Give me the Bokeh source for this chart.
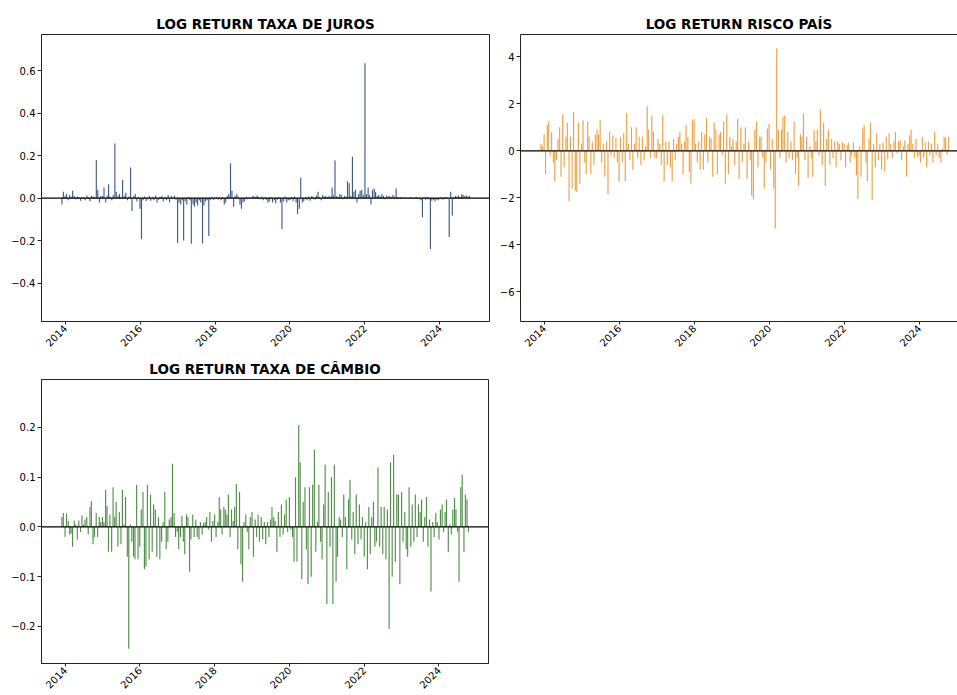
import math
import numpy as np
import pandas as pd
from bokeh.plotting import figure
from bokeh.layouts import column, row
from bokeh.models import (ColumnDataSource, FixedTicker, CustomJSTickFormatter, Span,
                          Range1d, LinearAxis)
from bokeh.embed import file_html
from bokeh.resources import INLINE

# ---------------- data (semi-monthly log returns, Dec 2013 .. Oct 2024) ----------------
titles = ["LOG RETURN TAXA DE JUROS", "LOG RETURN RISCO PAÍS", "LOG RETURN TAXA DE CÂMBIO"]
tick_years = [2014, 2016, 2018, 2020, 2022, 2024]

juros = [
    -0.03, 0.03,
    0.01, 0.02, -0.01, 0.015, 0.005, 0.035, 0.01, -0.005, 0.008, 0.005, -0.012, 0.006,
    0.004, -0.01, 0.012, 0.005, -0.015, 0.01, 0.008, 0.005, 0.18, 0.04, -0.02, 0.01,
    0.01, 0.05, -0.02, 0.012, 0.065, 0.008, -0.01, 0.015, 0.257, 0.03, 0.01, 0.02,
    0.005, 0.085, 0.01, 0.025, -0.01, 0.008, 0.145, -0.06, 0.01, 0.02, -0.015, 0.005,
    -0.05, -0.194, -0.01, 0.008, -0.015, -0.005, 0.01, -0.012, 0.005, -0.01, 0.012, -0.02,
    -0.008, 0.005, 0.01, -0.015, 0.006, -0.01, 0.015, -0.02, 0.01, -0.005, 0.012, -0.008,
    -0.21, -0.02, -0.03, -0.01, -0.20, -0.015, -0.03, 0.005, -0.01, -0.215, -0.03, -0.04,
    -0.02, -0.035, -0.01, -0.02, -0.213, -0.035, -0.015, -0.01, -0.178, -0.01, 0.005, -0.008,
    -0.005, 0.005, -0.008, 0.004, -0.01, 0.006, -0.03, -0.02, 0.01, 0.02, 0.164, 0.035,
    -0.04, 0.01, 0.02, 0.008, -0.03, -0.05, -0.02, -0.015, 0.005, -0.005, 0.003, -0.004,
    0.008, 0.01, 0.005, 0.012, 0.006, -0.005, 0.008, -0.01, 0.004, -0.008, -0.02, -0.015,
    0.005, -0.02, -0.01, -0.025, -0.008, 0.006, -0.02, -0.145, -0.015, 0.008, -0.02, -0.01,
    -0.01, 0.005, -0.015, 0.008, -0.02, -0.074, -0.05, 0.096, -0.02, -0.015, 0.005, -0.01,
    0.008, -0.012, 0.01, 0.006, -0.008, 0.012, 0.03, 0.005, -0.01, 0.015, 0.008, 0.01,
    0.005, 0.01, 0.008, 0.05, 0.012, 0.178, 0.01, 0.005, 0.02, 0.015, -0.005, 0.01,
    0.008, 0.08, 0.07, 0.01, 0.195, 0.03, 0.04, -0.02, 0.02, 0.035, 0.04, 0.015,
    0.635, 0.02, 0.05, 0.015, -0.03, 0.04, 0.045, 0.03, 0.01, 0.015, 0.008, 0.02,
    0.01, -0.005, 0.012, 0.008, 0.01, 0.005, 0.015, 0.008, 0.045, 0.005, 0.003, 0.004,
    0.003, -0.002, 0.004, 0.002, -0.003, 0.005, 0.003, -0.004, 0.002, 0.006, 0.003, -0.005,
    -0.01, -0.09, 0.004, -0.008, 0.005, -0.006, -0.24, -0.012, -0.008, -0.015, -0.006, -0.01,
    -0.005, 0.004, -0.008, 0.003, 0.005, -0.004, -0.183, 0.03, -0.082, 0.005, 0.01, 0.008,
    0.012, 0.006, 0.018, 0.015, 0.01, 0.012, 0.008, 0.01,
]

risco = [
    0.3, 0.2,
    0.7, -1.0, 1.1, 1.25, -0.2, 0.8, -0.5, -1.3, -0.4, 0.5, 1.0, -1.1,
    1.55, -0.7, 0.6, 1.2, -2.15, 0.6, -1.6, 1.65, -1.7, -1.75, 1.2, -1.4,
    0.3, 1.3, -0.5, -1.0, 1.25, 0.6, -1.0, 0.4, -0.6, 0.7, 0.9, 0.7,
    1.3, -0.5, 0.3, -1.1, 0.4, -1.85, 0.8, -0.2, 0.65, -0.3, 0.55, -0.5,
    -1.3, 0.6, -0.5, 0.75, -1.3, 1.6, 0.3, -0.4, 1.0, -0.8, 0.3, 1.0,
    -0.3, 0.6, -0.6, 0.6, -0.4, 0.2, 1.9, 0.9, -0.3, 1.5, 0.8, -0.3,
    -0.3, 0.5, 0.3, -0.6, 1.5, -1.3, 0.4, -0.6, 0.4, -0.7, -1.3, 0.5,
    -0.4, 0.3, 0.6, 0.8, 0.3, -1.0, 0.4, 1.1, 0.6, -0.9, -1.4, 1.3,
    1.35, 0.3, -0.5, 0.4, -0.8, 0.8, -0.8, 0.7, 1.4, -0.5, 0.6, 0.5,
    -1.1, 1.2, 0.9, -1.0, 0.7, 0.8, -0.2, 1.25, -1.4, 1.55, -1.0, 0.6,
    0.2, 0.5, -0.6, 0.4, 1.35, -1.2, 1.0, -0.5, 0.3, 1.0, -1.2, 0.4,
    -0.4, -1.9, -2.05, 0.9, 1.25, -0.7, 0.6, 0.6, -0.3, -1.6, -0.5, 0.95,
    1.15, -0.8, 0.5, -1.6, -3.3, 4.35, 0.9, -0.3, 0.9, 1.45, 1.5, -0.5,
    0.8, -0.3, 0.4, -0.4, 1.25, -1.0, -0.3, -1.5, 0.7, 0.6, 1.6, -0.4,
    0.6, -1.15, 0.2, -0.3, -1.1, 0.9, 0.4, 0.9, -0.2, 1.75, -0.6, 1.2,
    -1.5, 0.5, 0.9, -0.6, 0.5, -0.3, 0.4, -0.7, 0.4, 0.3, -0.4, 0.35,
    0.3, -0.7, 0.25, 0.35, -0.5, -0.2, 0.35, -0.3, -1.05, -2.05, 0.2, -1.1,
    0.95, 1.1, -0.5, -1.3, 0.5, 1.2, -2.1, 0.3, -0.7, 0.75, -0.4, 0.3,
    -0.8, 0.35, -0.9, 0.6, -0.35, 0.75, 0.3, -0.3, 0.4, 0.8, -0.1, 0.4,
    0.45, -0.4, 0.2, 0.45, -1.1, 0.3, 0.65, 0.9, 0.3, -0.3, 0.5, -0.25,
    -0.2, -0.5, 0.6, -0.3, 0.35, -0.7, 0.4, -0.2, 0.3, -0.5, 0.8, -0.2,
    0.3, -0.3, -0.5, 0.1, 0.6, 0.55, -0.15, 0.6,
]

cambio = [
    0.02, 0.028,
    -0.02, 0.027, 0.012, -0.015, -0.013, -0.04, 0.013, 0.005, -0.025, 0.013, -0.01, 0.023,
    0.005, 0.015, 0.02, -0.015, 0.04, 0.052, -0.035, -0.02, 0.028, -0.02, 0.02, 0.01,
    0.02, 0.01, 0.075, 0.042, -0.05, 0.025, -0.05, 0.08, 0.02, 0.05, -0.04, 0.03,
    -0.035, 0.075, 0.005, 0.06, -0.06, -0.245, 0.005, -0.03, -0.06, -0.065, 0.085, -0.065,
    -0.04, 0.035, 0.07, -0.085, -0.08, 0.085, -0.065, 0.065, -0.05, 0.045, 0.035, -0.06,
    0.02, -0.065, -0.03, 0.01, 0.07, -0.045, -0.03, 0.015, 0.02, 0.127, 0.028, -0.02,
    -0.01, -0.045, -0.02, 0.022, -0.03, -0.055, 0.025, 0.02, -0.09, -0.025, 0.025, -0.02,
    0.015, -0.02, -0.025, 0.01, -0.015, 0.008, 0.01, 0.02, -0.005, 0.03, -0.03, 0.012,
    0.025, -0.02, 0.01, 0.06, 0.035, -0.015, 0.04, 0.035, 0.025, 0.065, -0.02, 0.035,
    0.012, 0.04, 0.087, -0.045, 0.07, -0.075, -0.11, 0.01, 0.025, -0.01, -0.045, 0.02,
    0.03, -0.06, 0.015, -0.02, 0.025, -0.03, 0.02, -0.025, 0.01, -0.035, 0.01, -0.02,
    0.015, 0.04, 0.02, 0.012, -0.05, 0.03, -0.02, 0.045, -0.015, 0.025, 0.055, -0.01,
    0.06, -0.005, -0.02, -0.07, 0.10, -0.07, 0.205, 0.13, -0.105, 0.05, 0.08, -0.045,
    -0.115, 0.08, -0.1, 0.085, 0.155, -0.05, 0.01, 0.085, -0.03, -0.065, 0.045, 0.125,
    -0.155, 0.07, -0.04, 0.1, -0.155, 0.125, -0.11, -0.06, 0.02, 0.015, -0.02, 0.065,
    0.02, -0.085, 0.055, 0.095, -0.025, 0.03, -0.055, 0.065, -0.035, 0.045, -0.025, 0.02,
    -0.06, 0.01, -0.085, 0.04, -0.055, 0.02, 0.05, -0.04, -0.03, 0.12, -0.04, 0.04,
    -0.055, 0.04, -0.065, 0.035, -0.205, 0.13, -0.1, 0.145, -0.07, 0.065, 0.065, -0.115,
    0.07, -0.03, 0.03, -0.045, -0.06, 0.08, -0.04, 0.045, -0.03, 0.065, -0.02, 0.045,
    0.03, 0.055, -0.03, 0.02, 0.06, -0.04, 0.015, -0.13, 0.01, -0.02, 0.028, 0.01,
    -0.025, 0.035, 0.045, -0.01, 0.03, 0.055, -0.05, 0.005, -0.015, 0.035, 0.058, 0.035,
    -0.01, -0.11, 0.08, 0.105, -0.05, 0.065, 0.055, -0.01,
]

# observation dates: 1st and 15th of each month, Dec 2013 .. Oct 2024
dates = []
y, m = 2013, 12
while (y, m) <= (2024, 10):
    dates.append(pd.Timestamp(y, m, 1))
    dates.append(pd.Timestamp(y, m, 15))
    m += 1
    if m > 12:
        m, y = 1, y + 1
dates = pd.DatetimeIndex(dates)


def ms(ts):
    return ts.value / 1e6


def yfrac(v):
    return ms(pd.Timestamp("2014-01-01") + pd.Timedelta(days=(v - 2014) * 365.25))


FONT = "DejaVu Sans"
BAR_W = 11 * 86400000
EDGE = "#222222"


def style_axis(ax, standoff, tick):
    ax.axis_line_color = EDGE
    ax.axis_line_width = 1
    ax.major_tick_line_color = EDGE
    ax.major_tick_out = tick
    ax.major_tick_in = 0
    ax.minor_tick_line_color = None
    ax.major_label_text_font = FONT
    ax.major_label_text_font_size = "10px"
    ax.major_label_text_color = "black"
    ax.major_label_standoff = standoff


def make_panel(title, values, color, ylim, yticks, dec, width, height,
               mleft, mright, mtop, mbottom, xend, open_right=False):
    n = min(len(values), len(dates))
    src = ColumnDataSource(dict(date=dates.values[:n], ret=values[:n]))
    p = figure(width=width, height=height, x_axis_type="datetime",
               output_backend="svg", toolbar_location=None,
               x_range=Range1d(yfrac(2013.37), xend),
               y_range=Range1d(ylim[0], ylim[1]),
               min_border_left=mleft, min_border_right=mright,
               min_border_top=mtop, min_border_bottom=mbottom)
    p.vbar(x="date", top="ret", bottom=0, width=BAR_W, source=src,
           fill_color=color, fill_alpha=0.85, line_color=None)
    p.add_layout(Span(location=0, dimension="width", line_color="black", line_width=1.2))

    p.title.text = title
    p.title.align = "center"
    p.title.text_font = FONT
    p.title.text_font_size = "13.5px"
    p.title.text_font_style = "bold"
    p.title.text_color = "black"
    p.title.standoff = 5

    p.xgrid.visible = False
    p.ygrid.visible = False
    p.background_fill_color = "white"
    p.border_fill_color = "white"

    xax = p.below[0]
    yax = p.left[0]
    style_axis(xax, 2, 3)
    style_axis(yax, 2, 4)

    xax.ticker = FixedTicker(ticks=[ms(pd.Timestamp(yy, 1, 1)) for yy in tick_years])
    xax.formatter = CustomJSTickFormatter(
        code="return String(new Date(tick).getUTCFullYear());")
    xax.major_label_orientation = math.pi / 4

    yax.ticker = FixedTicker(ticks=yticks)
    yax.formatter = CustomJSTickFormatter(
        args=dict(d=dec),
        code="const s = Math.abs(tick).toFixed(d); return (tick < -1e-9 ? '\\u2212' : '') + s;")

    if open_right:
        # the reference is cut at the window edge: no right spine, only a top spine
        p.outline_line_color = None
        top_ax = LinearAxis(ticker=FixedTicker(ticks=[]),
                            major_label_text_font_size="0px",
                            major_label_standoff=0, major_tick_out=0, major_tick_in=0,
                            axis_line_color=EDGE, axis_line_width=1,
                            major_tick_line_color=None, minor_tick_line_color=None)
        p.add_layout(top_ax, "above")
    else:
        p.outline_line_color = EDGE
        p.outline_line_width = 1
    return p


p1 = make_panel(titles[0], juros, "#1d3c6e", (-0.581, 0.771),
                [-0.4, -0.2, 0.0, 0.2, 0.4, 0.6], 1,
                492, 353, 41, 3, 34, 10, yfrac(2025.323))
p2 = make_panel(titles[1], risco, "#f28c1e", (-7.26, 4.95),
                [-6, -4, -2, 0, 2, 4], 0,
                465, 353, 28, 0, 34, 10, yfrac(2025.023), open_right=True)
p3 = make_panel(titles[2], cambio, "#2e7a26", (-0.2745, 0.2964),
                [-0.2, -0.1, 0.0, 0.1, 0.2], 1,
                492, 342, 41, 4, 26, 10, yfrac(2025.323))

layout = column(row(p1, p2), p3)
open("out.html", "w").write(file_html(layout, INLINE))
